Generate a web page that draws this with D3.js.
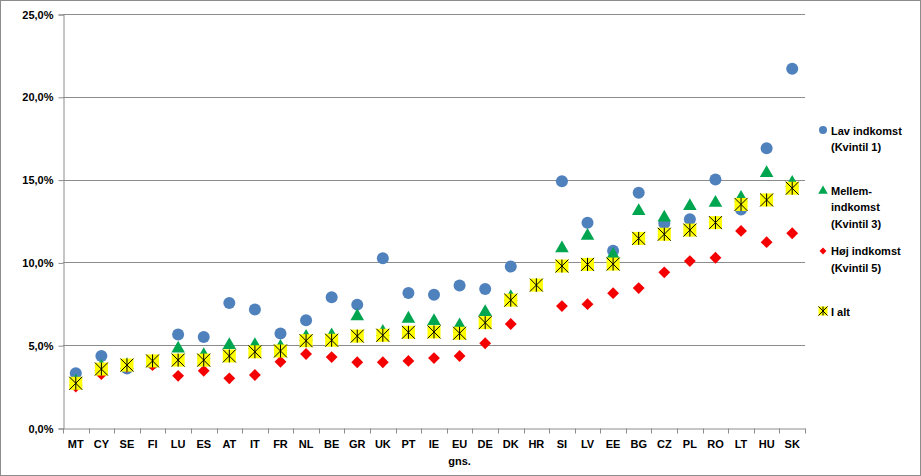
<!DOCTYPE html>
<html>
<head>
<meta charset="utf-8">
<script src="https://cdn.jsdelivr.net/npm/d3@7"></script>
<style>
  body { margin: 0; background: #fff; }
  svg text { font-family: "Liberation Sans", Arial, sans-serif; font-weight: bold; font-size: 11px; fill: #000; }
</style>
</head>
<body>
<svg id="chart" width="921" height="476"></svg>
<script>
// countries, sorted by total
var countries = ["MT","CY","SE","FI","LU","ES","AT","IT","FR","NL","BE","GR","UK","PT","IE","EU","DE","DK","HR","SI","LV","EE","BG","CZ","PL","RO","LT","HU","SK"];

// Lav indkomst (Kvintil 1)
var lav = [3.3,4.35,3.6,3.9,5.65,5.5,7.55,7.15,5.7,6.5,7.9,7.45,10.25,8.15,8.05,8.6,8.4,9.75,8.6,14.9,12.4,10.7,14.2,12.35,12.6,15.0,13.2,16.9,21.7];
// Mellemindkomst (Kvintil 3)
var mellem = [2.8,3.7,3.8,4.0,4.8,4.4,5.0,5.0,4.9,5.5,5.6,6.75,5.8,6.6,6.45,6.2,7.0,7.9,8.6,10.85,11.6,10.45,13.1,12.7,13.4,13.6,13.9,15.4,14.8];
// Høj indkomst (Kvintil 5)
var hoj = [2.5,3.25,3.7,3.8,3.15,3.45,3.0,3.2,4.0,4.47,4.28,3.97,3.97,4.05,4.22,4.35,5.12,6.28,8.6,7.36,7.48,8.14,8.45,9.4,10.08,10.28,11.9,11.22,11.76];
// I alt
var ialt = [2.7,3.56,3.8,4.05,4.1,4.1,4.35,4.6,4.65,5.27,5.3,5.55,5.6,5.78,5.8,5.72,6.36,7.72,8.63,9.78,9.88,9.9,11.45,11.7,11.95,12.4,13.5,13.77,14.48];

var yTicks = [0,5,10,15,20,25];

var svg = d3.select("#chart");

// outer border
svg.append("rect")
  .attr("x", 0.5).attr("y", 0.5)
  .attr("width", 920).attr("height", 475)
  .attr("fill", "#fff").attr("stroke", "#8c8c8c");

var plotL = 63, plotR = 805, plotT = 14, plotB = 428;

var x = d3.scaleBand().domain(countries).range([plotL, plotR]);
var y = d3.scaleLinear().domain([0, 25]).range([plotB, plotT]);

// gridlines
svg.append("g").selectAll("line")
  .data(yTicks.slice(1))
  .enter().append("line")
  .attr("x1", plotL).attr("x2", plotR)
  .attr("y1", function(d) { return Math.round(y(d)) + 0.5; })
  .attr("y2", function(d) { return Math.round(y(d)) + 0.5; })
  .attr("stroke", "#8c8c8c");

// y axis
var yAxis = d3.axisLeft(y).tickValues(yTicks).tickSize(5).tickPadding(5)
  .tickFormat(function(d) { return d3.format(".1f")(d).replace(".", ",") + "%"; });
var gy = svg.append("g").attr("transform", "translate(" + (plotL + 0.5) + ",0.5)").call(yAxis);
gy.select(".domain").attr("stroke", "#8c8c8c");
gy.selectAll(".tick line").attr("stroke", "#8c8c8c");
gy.selectAll("text").attr("font-size", 12.5).attr("font-family", null);

// x axis
var xAxis = d3.axisBottom(x).tickSize(0).tickPadding(12);
var gx = svg.append("g").attr("transform", "translate(0," + (plotB + 0.5) + ")").call(xAxis);
gx.select(".domain").attr("stroke", "#8c8c8c");
gx.selectAll("text").attr("font-size", 11.5).attr("font-family", null);

// category boundary ticks
var bounds = countries.map(function(c) { return x(c); }).concat([plotR]);
gx.selectAll(".bound").data(bounds).enter().append("line")
  .attr("x1", function(d) { return Math.round(d) + 0.5; })
  .attr("x2", function(d) { return Math.round(d) + 0.5; })
  .attr("y1", 0).attr("y2", 5)
  .attr("stroke", "#8c8c8c");

// "gns." under EU
svg.append("text")
  .attr("x", x("EU") + x.bandwidth() / 2)
  .attr("y", 465)
  .attr("text-anchor", "middle")
  .attr("font-size", 9)
  .text("gns.");

var blue = "#4f81bd", green = "#00a550", red = "#f50000", yellow = "#ffff00";

function cx(i) { return x(countries[i]) + x.bandwidth() / 2; }

function drawCircle(g, px, py, r) {
  g.append("circle").attr("cx", px).attr("cy", py).attr("r", r).attr("fill", blue);
}
function drawTri(g, px, py, s) {
  g.append("path").attr("d", d3.symbol().type(d3.symbolTriangle).size(s)())
    .attr("transform", "translate(" + px + "," + py + ")").attr("fill", green);
}
function drawDia(g, px, py, s) {
  g.append("path").attr("d", d3.symbol().type(d3.symbolSquare).size(s)())
    .attr("transform", "translate(" + px + "," + py + ") rotate(45)").attr("fill", red);
}
function drawStar(g, px, py, h) {
  g.append("rect").attr("x", px - h).attr("y", py - h).attr("width", 2 * h).attr("height", 2 * h)
    .attr("fill", yellow);
  var p = "M" + (px - h) + "," + (py - h) + "L" + (px + h) + "," + (py + h) +
          "M" + (px + h) + "," + (py - h) + "L" + (px - h) + "," + (py + h) +
          "M" + px + "," + (py - h) + "L" + px + "," + (py + h);
  g.append("path").attr("d", p).attr("stroke", "#000").attr("stroke-width", 1).attr("fill", "none");
}

var marks = svg.append("g");
lav.forEach(function(v, i) { drawCircle(marks, cx(i), y(v), 6); });
mellem.forEach(function(v, i) { drawTri(marks, cx(i), y(v), 80); });
hoj.forEach(function(v, i) { drawDia(marks, cx(i), y(v), 70); });
ialt.forEach(function(v, i) { drawStar(marks, cx(i), y(v), 6.5); });

// legend
var lg = svg.append("g");
var lx = 823, tx = 831;
drawCircle(lg, lx, 130, 4);
lg.append("text").attr("x", tx).attr("y", 135).text("Lav indkomst");
lg.append("text").attr("x", tx).attr("y", 151).text("(Kvintil 1)");

drawTri(lg, lx, 191, 40);
lg.append("text").attr("x", tx).attr("y", 195).text("Mellem-");
lg.append("text").attr("x", tx).attr("y", 211).text("indkomst");
lg.append("text").attr("x", tx).attr("y", 228).text("(Kvintil 3)");

drawDia(lg, lx, 251, 24);
lg.append("text").attr("x", tx).attr("y", 255).text("Høj indkomst");
lg.append("text").attr("x", tx).attr("y", 272).text("(Kvintil 5)");

drawStar(lg, lx, 311, 4.5);
lg.append("text").attr("x", tx).attr("y", 316).text("I alt");
</script>
</body>
</html>
